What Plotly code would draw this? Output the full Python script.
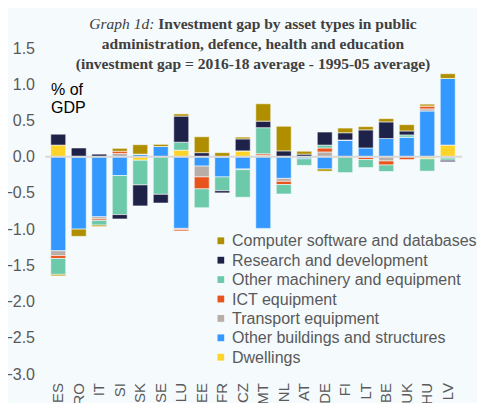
import plotly.graph_objects as go

# countries in display order
countries = ["ES", "RO", "IT", "SI", "SK", "SE", "LU", "EE", "FR", "CZ",
             "MT", "NL", "AT", "DE", "FI", "LT", "BE", "UK", "HU", "LV"]

# investment gap by asset type, % of GDP
dwellings = [0.16, 0, 0, 0, -0.05, 0, 0.09, 0, 0, 0.08,
             0, 0, 0, 0, 0, 0, 0, 0, -0.03, 0.16]
other_buildings = [-1.30, -1.00, -0.83, -0.26, 0.035, 0.14, -0.99, -0.13, -0.28, -0.17,
                   -0.99, -0.30, -0.03, -0.17, 0.23, 0.12, 0.25, 0.27, 0.63, 0.92]
transport = [-0.065, 0, -0.03, 0.045, 0, 0, -0.015, -0.15, 0, -0.01,
             0.02, -0.04, 0, 0.065, 0, -0.01, -0.06, 0, 0.03, -0.02]
ict = [-0.04, 0, -0.02, 0.03, 0, 0, -0.02, -0.165, 0, 0,
       0.02, -0.045, 0, 0.055, 0, -0.03, -0.055, -0.04, 0.04, 0]
other_machinery = [-0.22, 0, -0.065, -0.54, -0.34, -0.52, 0.11, -0.26, -0.19, -0.38,
                   0.36, -0.13, -0.09, 0.04, -0.22, -0.11, -0.09, 0.03, -0.17, -0.03]
research = [0.15, 0.12, 0.035, -0.06, -0.29, -0.12, 0.36, 0.055, -0.03, 0.165,
            0.09, 0.08, 0.035, 0.18, 0.10, 0.25, 0.23, 0.055, 0, -0.02]
software = [-0.02, -0.10, -0.02, 0.04, 0.13, 0.03, 0.03, 0.22, 0.055, 0.025,
            0.24, 0.34, 0.04, -0.03, 0.065, 0.045, 0.045, 0.087, 0.025, 0.065]

# stacking order: first series sits next to zero
series = [
    ("Dwellings", dwellings, "#FFD428"),
    ("Other buildings and structures", other_buildings, "#3399FF"),
    ("Transport equipment", transport, "#B9ADA7"),
    ("ICT equipment", ict, "#E8541C"),
    ("Other machinery and equipment", other_machinery, "#6CC9AA"),
    ("Research and development", research, "#1F2248"),
    ("Computer software and databases", software, "#AF8F00"),
]

y_ticks = [1.5, 1.0, 0.5, 0.0, -0.5, -1.0, -1.5, -2.0, -2.5, -3.0]

bg = "#F5FAFD"
grey_text = "#595959"

# page body adds an 8px offset, so the figure is 8px smaller than the window
W, H = 477, 395
ml, mr, mt, mb = 40, 27, 40, 29
plot_w = W - ml - mr
plot_h = H - mt - mb

fig = go.Figure()
for name, values, color in series:
    fig.add_trace(go.Bar(
        x=countries, y=values, name=name,
        marker=dict(color=color, line=dict(color="rgba(255,255,255,0.55)", width=1)),
        showlegend=False,
    ))

# hand-made legend so the rows sit as tight as in the original
annotations = []
shapes = []
for i, (name, values, color) in enumerate(reversed(series)):
    yc = (326 - (192.8 + 19.4 * i)) / plot_h
    annotations.append(dict(
        text=name, xref="paper", yref="paper", x=181.5 / plot_w, y=yc,
        xanchor="left", yanchor="middle", showarrow=False,
        font=dict(family="Liberation Sans, Arial", size=16, color=grey_text),
    ))
    half = 3.4 / plot_h
    shapes.append(dict(
        type="rect", xref="paper", yref="paper", line=dict(width=0), fillcolor=color,
        x0=169.5 / plot_w, x1=176.2 / plot_w, y0=yc - half, y1=yc + half,
    ))

# zero line on top of the bars
shapes.append(dict(type="line", xref="paper", yref="y", x0=-0.007, x1=1.01, y0=0, y1=0,
                   line=dict(color="#D9D9D9", width=2), layer="above"))

# unit label, two lines set close together
for text, yc in [("% of", 0.874), ("GDP", 0.8175)]:
    annotations.append(dict(
        text=text, xref="paper", yref="paper", x=0.002, y=yc,
        xanchor="left", yanchor="middle", showarrow=False,
        font=dict(family="Liberation Sans, Arial", size=16, color="#000000"),
    ))

title_text = ("<i>Graph 1d:</i> <b>Investment gap by asset types in public</b><br>"
              "<b>administration, defence, health and education</b><br>"
              "<b>(investment gap = 2016-18 average - 1995-05 average)</b>")

fig.update_layout(
    width=W, height=H,
    barmode="relative", bargap=0.27,
    paper_bgcolor=bg, plot_bgcolor=bg,
    margin=dict(l=ml, r=mr, t=mt, b=mb),
    title=dict(text=title_text, x=0.5, xref="paper", xanchor="center",
               y=0.948, yref="container", yanchor="top",
               font=dict(family="Liberation Serif, Times New Roman", size=15.5, color="#404040")),
    annotations=annotations,
    shapes=shapes,
    showlegend=False,
)
fig.update_xaxes(
    type="category", tickangle=-90, showgrid=False, showline=False, ticks="",
    ticklabelstandoff=5,
    tickfont=dict(family="Liberation Sans, Arial", size=15, color=grey_text),
    automargin=False,
)
fig.update_yaxes(
    range=[-3.0, 1.5], tickvals=y_ticks, tickformat=".1f", showgrid=False,
    zeroline=False, ticks="", ticklabelstandoff=12,
    tickfont=dict(family="Liberation Sans, Arial", size=16, color=grey_text),
    automargin=False,
)

fig.write_html("out.html")
